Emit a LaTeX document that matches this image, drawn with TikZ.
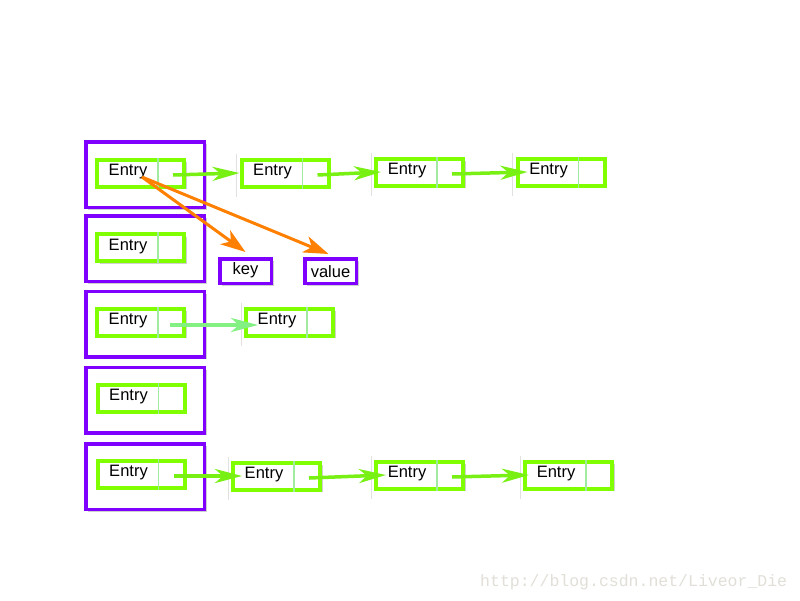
\documentclass[tikz,border=0pt]{standalone}
\usepackage{fontspec}
\setmainfont{Liberation Sans}
\newfontfamily\markfont{Liberation Mono}
\usetikzlibrary{arrows.meta,shadows}

\definecolor{entrygreen}{RGB}{128,255,0}
\definecolor{splitgreen}{RGB}{160,235,160}
\definecolor{linkgreen}{RGB}{120,240,20}
\definecolor{mintgreen}{RGB}{130,240,130}
\definecolor{bucketpurple}{RGB}{128,0,255}
\definecolor{ptrorange}{RGB}{255,128,0}
\definecolor{seamgray}{RGB}{225,225,225}
\definecolor{markgray}{RGB}{226,223,216}

\tikzset{
  softshadow/.style={drop shadow={opacity=0.3,fill=black!60,shadow xshift=2.5pt,shadow yshift=-2.5pt}},
  bucket/.style={draw=bucketpurple, line width=3.5pt, fill=white,
    minimum width=118.5pt, minimum height=65.5pt, softshadow},
  entrycell/.style={draw=entrygreen, line width=4pt, fill=white,
    minimum width=87pt, minimum height=27pt, softshadow},
  fieldbox/.style={draw=bucketpurple, line width=3.5pt, fill=white,
    minimum width=51.5pt, minimum height=24.5pt, softshadow},
  boxtext/.style={font=\fontsize{16.5}{19}\selectfont, anchor=base, inner sep=0pt},
  splitline/.style={draw=splitgreen, line width=1.5pt},
  seam/.style={draw=seamgray, line width=1pt},
  link/.style={draw=linkgreen, line width=3.5pt, -{Stealth[length=27pt,width=14pt,inset=8pt]}},
  ptr/.style={draw=ptrorange, line width=3pt, -{Stealth[length=25pt,width=17pt,inset=7pt]}},
}

% one Entry: box, text, split line
\newcommand{\entrynode}[3]{%
  \node[entrycell] (#1) at (#2,#3) {};
  \node[boxtext] (#1txt) at ([xshift=33pt,yshift=-2.5pt]#1.west) {Entry};
  \draw[splitline] ([xshift=63pt]#1.north west) -- ([xshift=63pt]#1.south west);
}

\begin{document}
\begin{tikzpicture}[x=1pt,y=-1pt]
  \useasboundingbox[fill=white] (0,0) rectangle (800,600);

  % Buckets
  \foreach \i/\y in {1/174.5,2/248.5,3/324,4/400,5/476.5}
    \node[bucket] (bucket\i) at (145,\y) {};

  % Entries
  \foreach \n/\x/\y in {a1/140.5/173, b1/285/173, c1/419.5/172, d1/561/172,
                        a2/140.5/247.5, a3/140.5/322, b3/289.5/322,
                        a4/141/398, a5/141/474, b5/276.5/476, c5/419.5/475, d5/568.5/475}
    \entrynode{\n}{\x}{\y};

  % seams left of chained entries
  \foreach \n in {b1,c1,d1,b3,b5,c5,d5}
    \draw[seam] ([xshift=-3pt,yshift=4pt]\n.north west) -- ([xshift=-3pt,yshift=-8pt]\n.south west);

  % key / value
  \node[fieldbox] (key) at (245.5,271) {};
  \node[boxtext] (keytxt) at ([yshift=-3pt]key.center) {key};
  \node[fieldbox] (value) at (330.5,271) {};
  \node[boxtext] (valuetxt) at ([yshift=-6.5pt]value.center) {value};

  % Links
  \foreach \s/\t/\d in {a1/b1/0, b1/c1/7, c1/d1/12, a5/b5/11, b5/c5/12, c5/d5/6}
    \draw[link] ([xshift=-13pt,yshift=-2pt]\s.east) -- ([xshift=\d pt]\t.west);
  \draw[link, draw=mintgreen] ([xshift=-16pt,yshift=-3pt]a3.east) -- ([xshift=14pt,yshift=-3pt]b3.west);

  % key and value pointers
  \coordinate (a1tail) at (142,177);
  \draw[ptr] (a1tail) -- ([yshift=5pt]key.north);
  \draw[ptr] (a1tail) -- ([xshift=-2pt,yshift=3pt]value.north);

  \node[anchor=base west, inner sep=0pt, text=markgray,
        font=\markfont\fontsize{16.5}{19}\selectfont] (watermark) at (480,586)
    {http://blog.csdn.net/Liveor\_Die};
\end{tikzpicture}
\end{document}
